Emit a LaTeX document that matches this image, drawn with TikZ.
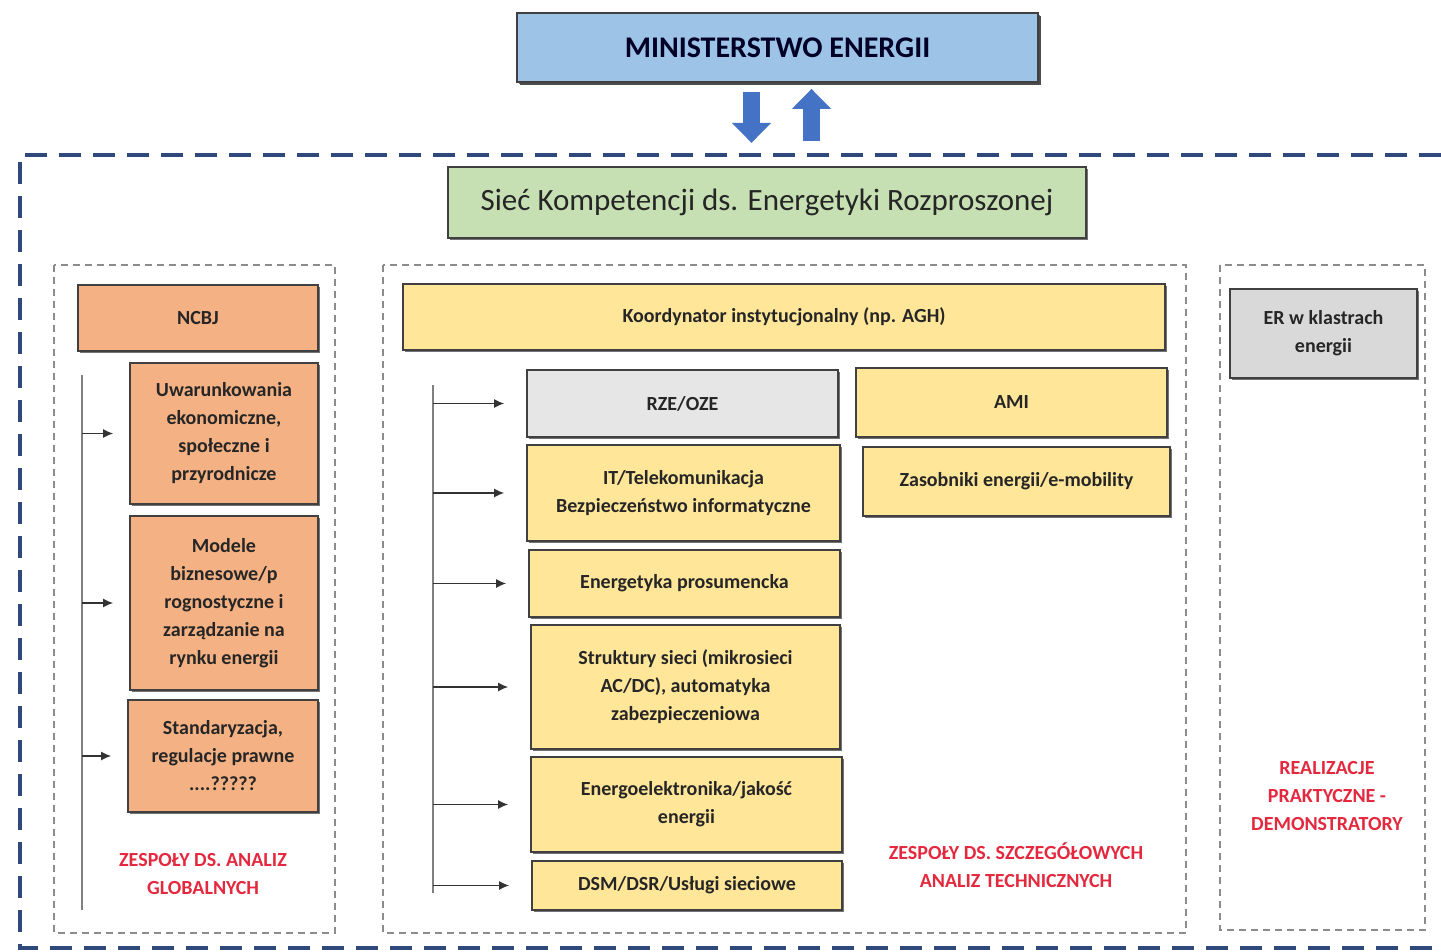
\documentclass[tikz,border=0pt]{standalone}
\usepackage{fontspec}
\setmainfont{Carlito}
\usetikzlibrary{calc,arrows.meta,shadows}
\definecolor{minblue}{HTML}{9DC3E6}
\definecolor{arrblue}{HTML}{4472C4}
\definecolor{netgreen}{HTML}{C6E0B4}
\definecolor{orangebox}{HTML}{F4B183}
\definecolor{yellowbox}{HTML}{FFE699}
\definecolor{lightgray}{HTML}{E7E6E6}
\definecolor{midgray}{HTML}{D9D9D9}
\definecolor{navydash}{HTML}{2F4A7A}
\definecolor{teamred}{HTML}{E4283E}
\tikzset{
	box/.style={draw=black!75, line width=0.9pt, inner sep=0pt, align=center,
		font=\bfseries\fontsize{10}{14}\selectfont, text=black!85,
		drop shadow={shadow xshift=0.8pt, shadow yshift=-0.8pt, fill=black!55, opacity=1}},
	obox/.style={box, fill=orangebox},
	ybox/.style={box, fill=yellowbox},
	size/.style args={#1x#2}{minimum width=#1pt, minimum height=#2pt},
	group/.style={draw=black!45, line width=0.7pt, dash pattern=on 3.5pt off 2.5pt},
	teamlabel/.style={align=center, text=teamred, font=\bfseries\fontsize{10}{14}\selectfont},
	trunk/.style={draw=black!50, line width=1pt},
	branch/.style={draw=black!80, line width=0.6pt, -{Latex[length=5pt,width=4.5pt]}},
	bigarr/.style={draw=arrblue, line width=8.5pt, -{Triangle[width=19pt,length=10pt]}}
}
\begin{document}
\begin{tikzpicture}[x=0.5pt,y=-0.5pt]
	\useasboundingbox (0,0) rectangle (1441,952);
	% ministerstwo i siec
	\node[box, fill=minblue, size=260.5x34.5, text=black!85!blue,
		font=\bfseries\fontsize{15}{18}\selectfont,
		drop shadow={shadow xshift=1.5pt, shadow yshift=-1.5pt, fill=black!70, opacity=1}]
	(min) at (777.5,47.5) {MINISTERSTWO ENERGII};
	\node[box, fill=netgreen, size=319x35.5, font=\fontsize{15.5}{18}\selectfont]
	(siec) at (767,202.5) {Sieć Kompetencji ds. Energetyki Rozproszonej};
	\path
	($(min.south)+(-26,9)$) coordinate (d1)
	($(min.south)+(-26,60)$) coordinate (d2)
	($(min.south)+(34,58)$) coordinate (u1)
	($(min.south)+(34,6)$) coordinate (u2);
	\draw[bigarr] (d1)--(d2);
	\draw[bigarr] (u1)--(u2);
	\draw[navydash, line width=2pt, dash pattern=on 11pt off 6pt]
	(1441,155)--(20,155)--(20,948)--(1441,948);
	% grupy
	\draw[group] (54,265) rectangle (335,933);
	\draw[group] (383,265) rectangle (1186,933);
	\draw[group] (1220,265) rectangle (1425,930);
	% zespoly globalne
	\node[obox, size=120x33] (ncbj) at (198,318) {NCBJ};
	\node[obox, size=94x70.5] (uwar) at (224,433.5) {Uwarunkowania\\ekonomiczne,\\społeczne i\\przyrodnicze};
	\node[obox, size=94x87] (mod) at (224,603) {Modele\\biznesowe/p\\rognostyczne i\\zarządzanie na\\rynku energii};
	\node[obox, size=95x56] (std) at (223,756) {Standaryzacja,\\regulacje prawne\\....?????};
	\node[teamlabel] (zglob) at (203,874) {ZESPOŁY DS. ANALIZ\\GLOBALNYCH};
	\path (82,375) coordinate (lt) (82,910) coordinate (lb);
	\draw[trunk] (lt)--(lb);
	\foreach \b in {uwar,mod,std}
	\draw[branch] (lt |- \b.west)--($(\b.west)+(-16,0)$);
	% zespoly techniczne
	\node[ybox, size=381x33] (koord) at (784,317) {Koordynator instytucjonalny (np. AGH)};
	\node[box, fill=lightgray, size=155.5x33.5] (rze) at (682.5,403.5) {RZE/OZE};
	\node[ybox, size=156.5x48] (it) at (683.5,493) {IT/Telekomunikacja\\Bezpieczeństwo informatyczne};
	\node[ybox, size=155.5x33.5] (pros) at (684.5,583.5) {Energetyka prosumencka};
	\node[ybox, size=154.5x62] (str) at (685.5,687) {Struktury sieci (mikrosieci\\AC/DC), automatyka\\zabezpieczeniowa};
	\node[ybox, size=155.5x47.5] (eel) at (686.5,804.5) {Energoelektronika/jakość\\energii};
	\node[ybox, size=155x24.5] (dsm) at (687,885.5) {DSM/DSR/Usługi sieciowe};
	\node[ybox, size=155.5x34.5] (ami) at (1011.5,402.5) {AMI};
	\node[ybox, size=153.5x34.5] (zas) at (1016.5,481.5) {Zasobniki energii/e-mobility};
	\node[teamlabel] (ztech) at (1016,865) {ZESPOŁY DS. SZCZEGÓŁOWYCH\\ANALIZ TECHNICZNYCH};
	\path (433,385) coordinate (mt) (433,893) coordinate (mb);
	\draw[trunk] (mt)--(mb);
	\foreach \b in {rze,it,pros,str,eel,dsm}
	\draw[branch] (mt |- \b.west)--($(\b.west)+(-22,0)$);
	% demonstratory
	\node[box, fill=midgray, size=93.5x44.5] (er) at (1323.5,333.5) {ER w klastrach\\energii};
	\node[teamlabel] (zreal) at (1327,796) {REALIZACJE\\PRAKTYCZNE -\\DEMONSTRATORY};
\end{tikzpicture}
\end{document}
